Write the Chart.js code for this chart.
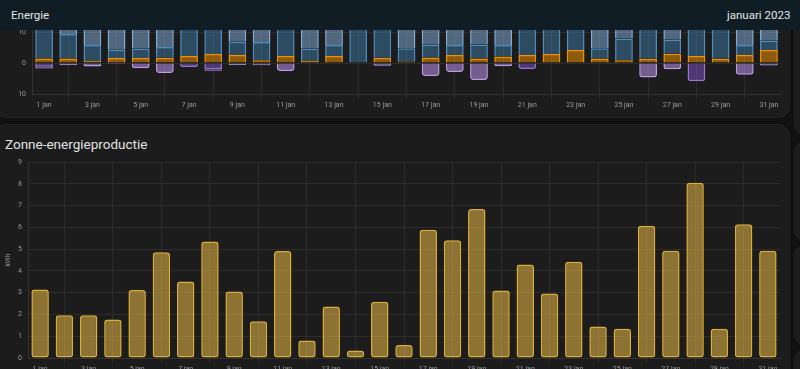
<!DOCTYPE html>
<html>
<head>
<meta charset="utf-8">
<script src="https://cdn.jsdelivr.net/npm/chart.js@4/dist/chart.umd.min.js"></script>
<style>
  html, body { margin:0; padding:0; width:800px; height:369px; overflow:hidden; background:#111111; font-family: Roboto, "Noto Sans", sans-serif; }
  .card { position:absolute; background:#1c1c1c; border-radius:12px; border:1px solid #232323; box-sizing:border-box; }
  #header { position:absolute; left:0; top:0; width:800px; height:30px; background:#101d24; z-index:10; color:#e6e6e6; font-size:11.5px; }
  #header .t { position:absolute; top:0; line-height:30px; }
  canvas { position:absolute; }
  #title2 { position:absolute; left:5px; top:135px; font-size:13.5px; color:#e3e3e3; line-height:18px; }
</style>
</head>
<body>
<div id="header"><span class="t" style="left:11px">Energie</span><span class="t" style="left:727px">januari 2023</span></div>

<div class="card" style="left:-6px; top:-100px; width:796px; height:218px;"></div>
<div class="card" style="left:-6px; top:124px; width:796px; height:300px;"></div>

<div class="card" style="left:794px; top:-60px; width:40px; height:195px; border-radius:10px;"></div>
<div class="card" style="left:794px; top:142px; width:40px; height:98px; border-radius:10px;"></div>
<div class="card" style="left:794px; top:245px; width:40px; height:100px; border-radius:10px;"></div>
<div class="card" style="left:794px; top:350px; width:40px; height:100px; border-radius:10px;"></div>

<canvas id="c1" width="785" height="154" style="left:0; top:-40px;"></canvas>
<div id="title2">Zonne-energieproductie</div>
<canvas id="c2" width="784" height="226" style="left:0; top:152px;"></canvas>

<script>
// ---- data ----
const dayLabels = ['1 jan','2 jan','3 jan','4 jan','5 jan','6 jan','7 jan','8 jan','9 jan','10 jan',
  '11 jan','12 jan','13 jan','14 jan','15 jan','16 jan','17 jan','18 jan','19 jan','20 jan',
  '21 jan','22 jan','23 jan','24 jan','25 jan','26 jan','27 jan','28 jan','29 jan','30 jan','31 jan'];

// Energy usage chart (kWh)
const solarUsed   = [1.5,1.5,0.7,1.6,1.6,1.7,2.3,2.9,2.6,0.9,2.3,0.7,2.3,0.2,1.7,0.5,1.8,2.6,1.5,2.1,2.6,2.9,4.2,1.5,0.9,1.4,3.0,2.3,1.4,2.6,4.2];
const gridTariff1 = [12,7.9,5.1,2.7,3.1,3.5,11,10.5,4.3,5.9,11,4.0,3.5,12,11,4.3,4.1,3.2,4.5,3.75,10,11,9,3.3,7.0,11,4.5,10,11,3.2,3.0];
const gridTariff2 = [4,6,8,9,8,7,3,4,7,6,3,8,7,2,3,8,7,8,7,7,3,2,3,8,6,3,6,4,3,7,6];
const returnTariff1 = [1.2,0,0,0,0,0,1.25,2.0,0,0,0,0,0,0,0,0,0,0,0,0,1.9,0,0,0,0,0,0,5.9,0,0,0];
const returnTariff2 = [0.6,0.6,1.1,0.3,1.7,3.2,0,0.5,0.6,0.7,2.6,0,0,0,0.9,0,4.2,2.9,5.5,1.0,0,0,0,0,0,4.7,2.0,0,0,3.75,0.8];

// Solar production chart (kWh)
const solarProduction = [3.15,1.97,1.97,1.77,3.12,4.86,3.52,5.36,3.06,1.69,4.92,0.80,2.37,0.35,2.58,0.60,5.90,5.41,6.85,3.10,4.30,2.97,4.42,1.45,1.35,6.08,4.93,8.05,1.35,6.15,4.93];

const usageTicks = [-10, 0, 10, 20, 30];
const productionTicks = [0,1,2,3,4,5,6,7,8,9];

// ---- helpers ----
const nz = a => a.map(v => v === 0 ? null : v);
const neg = a => a.map(v => v === 0 ? null : -v);
const gridCol = '#2c2c2c';
const tickCol = '#9a9a9a';
const tickFont = { family: 'Roboto', size: 7 };

function xAxis() {
  return {
    type: 'category',
    offset: true,
    grid: {
      offset: false,
      color: ctx => (ctx.index % 2 === 1 ? gridCol : 'rgba(0,0,0,0)'),
      tickLength: 5,
      drawTicks: true
    },
    border: { color: '#333333' },
    ticks: {
      autoSkip: false, maxRotation: 0, minRotation: 0, padding: 2,
      color: tickCol, font: tickFont,
      callback: function(v, i) { return i % 2 === 0 ? this.getLabelForValue(v) : ''; }
    },
    afterFit: s => { s.height = 20; }
  };
}

Chart.defaults.animation = false;
Chart.defaults.font.family = 'Roboto';

function ds(label, data, bg, border) {
  return { label, data, backgroundColor: bg, borderColor: border, borderWidth: 1.5,
    borderRadius: 3, stack: 'a',
    barPercentage: 0.92, categoryPercentage: 0.8 };
}

new Chart(document.getElementById('c1'), {
  type: 'bar',
  data: {
    labels: dayLabels,
    datasets: [
      ds('Zon', nz(solarUsed), 'rgba(255,152,0,0.5)', '#f29200'),
      ds('Net tarief 1', nz(gridTariff1), 'rgba(72,143,194,0.42)', '#4a8dc0'),
      ds('Net tarief 2', nz(gridTariff2), 'rgba(130,172,215,0.52)', '#80afdc'),
      ds('Teruglevering 1', neg(returnTariff1), 'rgba(131,83,209,0.5)', '#9575cf'),
      ds('Teruglevering 2', neg(returnTariff2), 'rgba(180,140,225,0.58)', '#bb9be6')
    ]
  },
  options: {
    responsive: false, devicePixelRatio: 1,
    layout: { padding: { top: 6, right: 4, left: 0, bottom: 0 } },
    plugins: { legend: { display: false }, tooltip: { enabled: false } },
    scales: {
      x: Object.assign(xAxis(), { stacked: true }),
      y: {
        stacked: true, min: usageTicks[0], max: usageTicks[usageTicks.length - 1],
        afterBuildTicks: s => { s.ticks = usageTicks.map(v => ({ value: v })); },
        grid: { color: gridCol, drawTicks: false },
        border: { color: '#333333' },
        ticks: { padding: 6, color: tickCol, font: tickFont, callback: v => Math.abs(v) },
        afterFit: s => { s.width = 32; }
      }
    }
  }
});

new Chart(document.getElementById('c2'), {
  type: 'bar',
  data: {
    labels: dayLabels,
    datasets: [{
      label: 'Zonne-energieproductie', data: solarProduction,
      backgroundColor: 'rgba(252,202,74,0.5)', borderColor: '#dcae3a', borderWidth: 1.5,
      borderRadius: 3, borderSkipped: false, barPercentage: 0.9, categoryPercentage: 0.8
    }]
  },
  options: {
    responsive: false, devicePixelRatio: 1,
    layout: { padding: { top: 10, right: 4, left: 0, bottom: 0 } },
    plugins: { legend: { display: false }, tooltip: { enabled: false } },
    scales: {
      x: xAxis(),
      y: {
        min: productionTicks[0], max: productionTicks[productionTicks.length - 1],
        afterBuildTicks: s => { s.ticks = productionTicks.map(v => ({ value: v })); },
        grid: { color: gridCol, drawTicks: false },
        border: { color: '#333333' },
        title: { display: true, text: 'kWh', color: tickCol, font: { family: 'Roboto', size: 6.5 }, padding: { top: 4, bottom: 0 } },
        ticks: { padding: 6, color: tickCol, font: tickFont },
        afterFit: s => { s.width = 28; }
      }
    }
  }
});
</script>
</body>
</html>
